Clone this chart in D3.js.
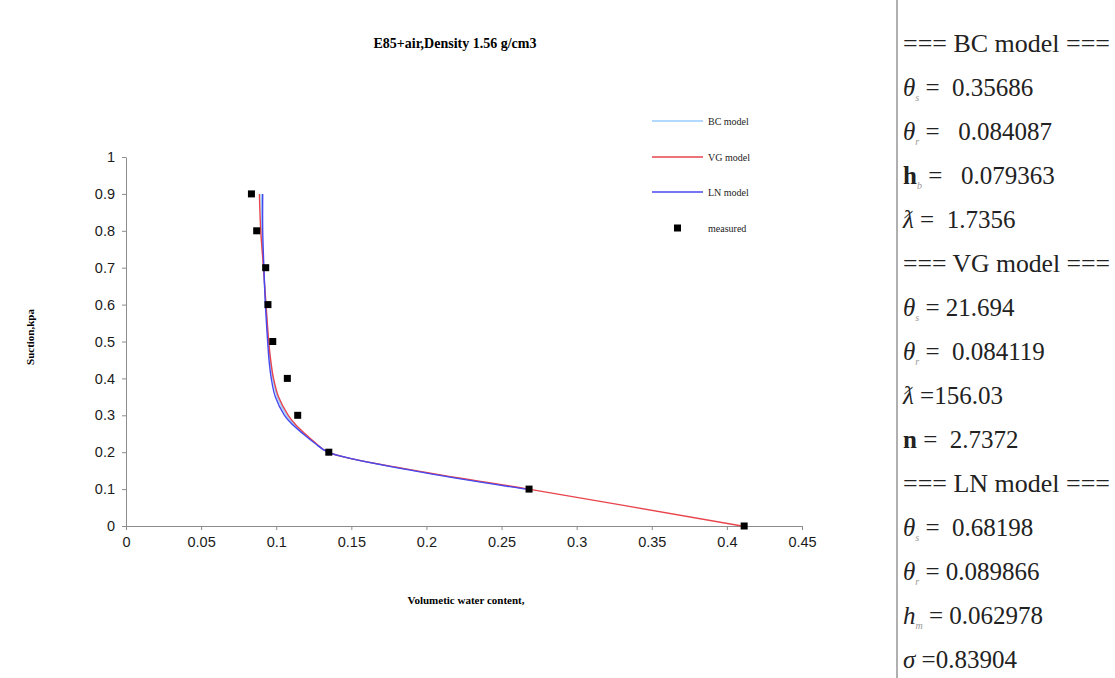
<!DOCTYPE html>
<html><head><meta charset="utf-8">
<script src="https://cdn.jsdelivr.net/npm/d3@7"></script>
<style>body{margin:0;background:#fff}svg{display:block}</style>
</head><body>
<svg id="c" width="1115" height="678"></svg>
<script>
// ---- data ----
const xTicks = [0,0.05,0.1,0.15,0.2,0.25,0.3,0.35,0.4,0.45];
const yTicks = [0,0.1,0.2,0.3,0.4,0.5,0.6,0.7,0.8,0.9,1];
const measuredTheta = [0.0835,0.087,0.093,0.0945,0.0977,0.1074,0.1143,0.135,0.2683,0.4115];
const measuredSuction = [0.9,0.8,0.7,0.6,0.5,0.4,0.3,0.2,0.1,0];
const curveSuction = [0.9,0.8,0.7,0.6,0.5,0.45,0.4,0.35,0.3,0.275,0.25,0.225,0.2,0.15,0.1];
const bcTheta = [0.0900,0.0905,0.0915,0.0930,0.0948,0.0960,0.0977,0.1007,0.1068,0.1118,0.1185,0.1258,0.1345,0.1920,0.2670];
const lnTheta = [0.0910,0.0910,0.0918,0.0928,0.0943,0.0952,0.0967,0.0994,0.1055,0.1108,0.1178,0.1255,0.1345,0.1910,0.2660];
const vgSuction = [0.9,0.8,0.7,0.6,0.5,0.45,0.4,0.35,0.3,0.275,0.25,0.225,0.2,0.15,0.1,0];
const vgTheta = [0.0888,0.0897,0.0915,0.0932,0.0950,0.0963,0.0982,0.1015,0.1080,0.1128,0.1192,0.1262,0.1345,0.1930,0.2680,0.4100];
const seriesNames = ["BC model","VG model","LN model","measured"];
const seriesColors = ["#99ccff","#e8444c","#4848f0","#000"];
const title = "E85+air,Density 1.56 g/cm3";
const xLabel = "Volumetic water content,";
const yLabel = "Suction,kpa";
// right panel parameter list
const paramRows = [
  {hdr:"=== BC model ==="},
  {sym:"θ",sub:"s",eq:" =  ",val:"0.35686"},
  {sym:"θ",sub:"r",eq:" =   ",val:"0.084087"},
  {sym:"h",sub:"b",eq:" =   ",val:"0.079363",upright:true},
  {sym:"ƛ",sub:"",eq:" =  ",val:"1.7356"},
  {hdr:"=== VG model ==="},
  {sym:"θ",sub:"s",eq:" = ",val:"21.694"},
  {sym:"θ",sub:"r",eq:" =  ",val:"0.084119"},
  {sym:"ƛ",sub:"",eq:" =",val:"156.03"},
  {sym:"n",sub:"",eq:" =  ",val:"2.7372",upright:true},
  {hdr:"=== LN model ==="},
  {sym:"θ",sub:"s",eq:" =  ",val:"0.68198"},
  {sym:"θ",sub:"r",eq:" = ",val:"0.089866"},
  {sym:"h",sub:"m",eq:" = ",val:"0.062978"},
  {sym:"σ",sub:"",eq:" =",val:"0.83904"}
];

const svg = d3.select("#c");
const x = d3.scaleLinear().domain([0,0.45]).range([126,802]);
const y = d3.scaleLinear().domain([0,1]).range([526,157]);
const serif = "'Liberation Serif','Times New Roman',serif";
const sans = "'Liberation Sans',Arial,sans-serif";

// axes
const xa = svg.append("g").attr("transform","translate(0,526)")
  .call(d3.axisBottom(x).tickValues(xTicks).tickSize(4).tickSizeOuter(0).tickPadding(7).tickFormat(d=>String(d)));
const ya = svg.append("g").attr("transform","translate(126,0)")
  .call(d3.axisLeft(y).tickValues(yTicks).tickSize(4).tickSizeOuter(0).tickPadding(7).tickFormat(d=>String(d)));
[xa,ya].forEach(a=>{
  a.selectAll("path,line").attr("stroke","#8c8c8c");
  a.selectAll("text").attr("font-family",sans).attr("font-size",14.5).attr("fill","#1a1a1a");
});

// curves
const line = d3.line().x(d=>x(d[0])).y(d=>y(d[1])).curve(d3.curveCatmullRom.alpha(0.5));
const bc = bcTheta.map((t,i)=>[t,curveSuction[i]]);
const vg = vgTheta.map((t,i)=>[t,vgSuction[i]]);
const ln = lnTheta.map((t,i)=>[t,curveSuction[i]]);
[[bc,0],[vg,1],[ln,2]].forEach(([d,i])=>{
  svg.append("path").datum(d).attr("d",line).attr("fill","none")
    .attr("stroke",seriesColors[i]).attr("stroke-width",1.4);
});
svg.selectAll("rect.m").data(measuredTheta.map((t,i)=>[t,measuredSuction[i]])).enter()
  .append("rect").attr("class","m")
  .attr("x",d=>x(d[0])-3.5).attr("y",d=>y(d[1])-3.5).attr("width",7).attr("height",7).attr("fill","#000");

// title / labels
svg.append("text").attr("x",455).attr("y",48).attr("text-anchor","middle")
  .attr("font-family",serif).attr("font-weight","bold").attr("font-size",14).text(title);
svg.append("text").attr("x",466).attr("y",604).attr("text-anchor","middle")
  .attr("font-family",serif).attr("font-weight","bold").attr("font-size",11).text(xLabel);
svg.append("text").attr("transform","translate(34,337) rotate(-90)").attr("text-anchor","middle")
  .attr("font-family",serif).attr("font-weight","bold").attr("font-size",11).text(yLabel);

// legend
const legY = [121,157,192,228];
seriesNames.forEach((n,i)=>{
  if(i<3){
    svg.append("line").attr("x1",652).attr("x2",703).attr("y1",legY[i]).attr("y2",legY[i])
      .attr("stroke",seriesColors[i]).attr("stroke-width",1.4);
  } else {
    svg.append("rect").attr("x",674).attr("y",legY[i]-3.5).attr("width",7).attr("height",7).attr("fill","#000");
  }
  svg.append("text").attr("x",708).attr("y",legY[i]+3.5).attr("font-family",serif)
    .attr("font-size",10).attr("fill","#222").text(n);
});

// right panel
svg.append("line").attr("x1",897).attr("x2",897).attr("y1",0).attr("y2",678)
  .attr("stroke","#b0b0b0").attr("stroke-width",2);
paramRows.forEach((r,i)=>{
  const yy = 43 + i*44 + 9;
  const t = svg.append("text").attr("x",903).attr("y",yy).attr("font-family",serif)
    .attr("font-size",25).attr("fill","#222").attr("xml:space","preserve");
  if(r.hdr){ t.attr("textLength",207).attr("lengthAdjust","spacingAndGlyphs").text(r.hdr); return; }
  t.append("tspan").attr("font-style",r.upright?"normal":"italic").attr("font-weight",r.upright?"bold":"normal").text(r.sym);
  if(r.sub) t.append("tspan").attr("font-size",10).attr("dy",5).attr("fill","#999").attr("font-style","italic").text(r.sub);
  t.append("tspan").attr("dy",r.sub?-5:0).text(r.eq + r.val);
});
</script>
</body></html>
